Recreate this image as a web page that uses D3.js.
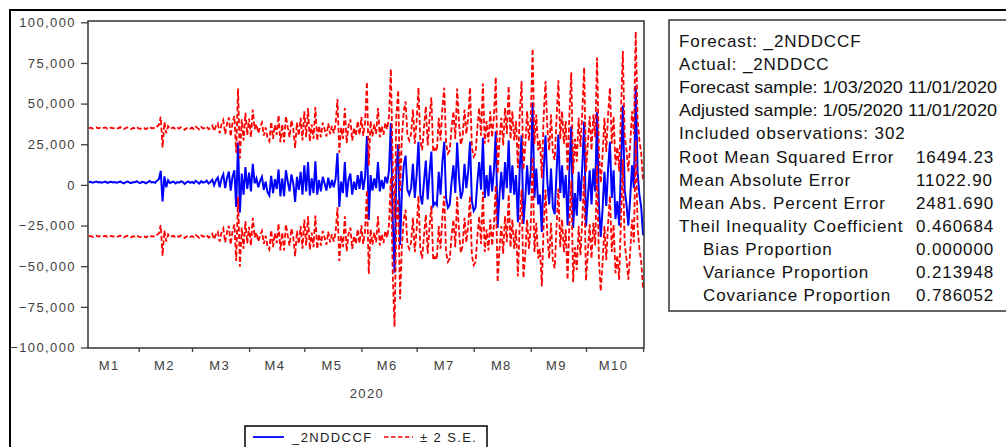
<!DOCTYPE html>
<html><head><meta charset="utf-8">
<script src="https://cdn.jsdelivr.net/npm/d3@7"></script>
<style>
html,body{margin:0;padding:0;background:#fff;}
svg{display:block;}
text{font-family:"Liberation Sans",Arial,sans-serif;}
</style></head><body>
<svg id="chart" width="1006" height="447"></svg>
<script>
// ---------------- DATA ----------------
const startDate = "2020-01-05";          // first observation (adjusted sample)
const endDate = "2020-11-01";
// Daily static forecast _2NDDCCF
const forecast = [
  1600, 1900, 1300, 1700, 2100, 1500, 1800,
  1400, 1700, 2000, 1200, 1600, 1900, 1500,
  1800, 1300, 1600, 2200, 1400, 1000, 1700,
  2000, 1500, 1100, 1800, 1600, 2300, 1400,
  1200, 1900, 1600, 1000, 1700, 2400, 1500,
  1800, 1300, 2600, 3500, 8600, -10200, 5200,
  -1500, 2800, 1200, 1600, 2000, 900, 1700,
  1400, 2200, 1800, 600, 1500, 2100, 1300,
  1900, 1100, 2500, 1600, 800, 2300, 1400,
  1700, 2600, 900, 1800, 3200, -200, 2900,
  4500, -1500, 3800, 6500, -2000, 4200, 8200,
  -3500, 5000, 9000, -13500, 26000, -17000, 7000,
  -6000, 11000, -2500, 7500, -4000, 13000, 1000,
  4000, -1500, 2500, 5000, -3000, 2000, -4500,
  -6500, 5500, -5000, 3500, -2500, 9500, -7000,
  4000, -7000, 9000, 2000, -4000, 6500, 1000,
  -10500, 5000, -3000, 8000, -6000, 12000, -4000,
  14000, -6500, 4000, -5000, 14500, -6000, 3000,
  -4000, 5000, 1000, -3500, 4500, -2000, 3000,
  -1500, 4000, 19500, -13500, 2000, -5000, 14000,
  -7500, 3000, 7000, -6000, 2000, -3000, 6000,
  -2500, 8500, -3000, 5000, 30000, -21500, 6000,
  -3500, 4000, -2000, 14000, -4000, 3000, -2500,
  5000, 1000, 9000, 38000, -20000, -54000, 10000,
  25000, -37000, -4000, 12000, 18000, -3000, -6000,
  -2000, 13000, -8000, 6000, 26500, -6000, -12000,
  2000, 15000, -9000, 7500, 20500, -13000, -11000,
  -12500, 8000, -6000, 14000, 26500, -8000, -14000,
  -12000, 2000, 12000, -5000, 26000, 5000, -8500,
  -4000, 13000, -2000, 8000, 26500, -10000, -16000,
  -14000, 2000, 14000, -3000, 29000, -8000, 6000,
  -7000, 12000, -4000, 9000, 33000, -26500, -6000,
  8000, -9000, 14000, -2000, 27500, -5000, 12000,
  -6000, 6000, -23000, 10000, 30500, -24000, -9000,
  12000, -6000, 8000, 50500, -8000, 10000, -12000,
  -6000, -29000, 9000, 30500, 2000, -12000, 10000,
  -14000, -18000, 8000, 31000, -5000, 12000, -8000,
  6000, -25000, 10000, 36000, -26500, -5000, -19000,
  8000, -10000, 12000, 39000, -25500, -8000, 9000,
  -12000, 10000, -4000, 45000, -12000, -32000, -15000,
  8000, -13000, 10000, 26500, -8000, 9000, -21000,
  -10000, -25000, 12000, 49000, -3000, -12000, -25000,
  -8000, 12000, -2000, 61000, 8000, -6000, -14000,
  -31000
];
// Forecast standard error (band = forecast +/- 2 S.E.)
const forecastSE = 16650;

const yTicks = [-100000, -75000, -50000, -25000, 0, 25000, 50000, 75000, 100000];
const monthStarts = ["2020-02-01","2020-03-01","2020-04-01","2020-05-01","2020-06-01",
                     "2020-07-01","2020-08-01","2020-09-01","2020-10-01","2020-11-01"];
const monthLabels = ["M1","M2","M3","M4","M5","M6","M7","M8","M9","M10"];
const monthLabelDates = ["2020-01-16","2020-02-15","2020-03-16","2020-04-15","2020-05-16",
                         "2020-06-15","2020-07-16","2020-08-16","2020-09-15","2020-10-16"];
const yearLabel = "2020";
const legendLabels = ["_2NDDCCF", "\u00b1 2 S.E."];
const statLabels = [
  "Forecast: _2NDDCCF",
  "Actual: _2NDDCC",
  "Forecast sample: 1/03/2020 11/01/2020",
  "Adjusted sample: 1/05/2020 11/01/2020",
  "Included observations: 302",
  "Root Mean Squared Error",
  "Mean Absolute Error",
  "Mean Abs. Percent Error",
  "Theil Inequality Coefficient",
  "Bias Proportion",
  "Variance Proportion",
  "Covariance Proportion"
];
const statValues = ["", "", "", "", "", "16494.23", "11022.90", "2481.690", "0.460684", "0.000000", "0.213948", "0.786052"];
const statIndent = [0,0,0,0,0,0,0,0,0,1,1,1];

// ---------------- DRAW ----------------
const svg = d3.select("#chart");
const parse = d3.utcParse("%Y-%m-%d");
const t0 = parse(startDate);
const dates = forecast.map((d, i) => d3.utcDay.offset(t0, i));
const upper = forecast.map(v => v + 2 * forecastSE);
const lower = forecast.map(v => v - 2 * forecastSE);

const plot = {left: 88, right: 644, top: 21, bottom: 348};
const x = d3.scaleUtc()
  .domain([d3.utcHour.offset(t0, -12), d3.utcHour.offset(parse(endDate), 12)])
  .range([plot.left, plot.right]);
const y = d3.scaleLinear().domain([-100000, 100000]).range([347.5, 22.3]);

// outer frame lines
svg.append("line").attr("x1", 10).attr("x2", 1006).attr("y1", 10).attr("y2", 10)
  .attr("stroke", "#000").attr("stroke-width", 2);
svg.append("line").attr("x1", 10).attr("x2", 10).attr("y1", 9).attr("y2", 447)
  .attr("stroke", "#000").attr("stroke-width", 2);

const axisColor = "#404040";
const labelFont = 13, labelSpacing = "1.4px";

// Y axis
const yAxis = d3.axisLeft(y).tickValues(yTicks).tickSize(7).tickPadding(5)
  .tickFormat(d3.format(","));
const gy = svg.append("g").attr("transform", `translate(${plot.left},0)`).call(yAxis);
gy.select(".domain").remove();
gy.selectAll(".tick line").attr("stroke", axisColor).attr("stroke-width", 1.3);
gy.selectAll(".tick text").attr("fill", "#404040").attr("font-size", labelFont)
  .attr("letter-spacing", labelSpacing)
  .style("font-family", '"Liberation Sans",Arial,sans-serif');

// X axis ticks at month starts
const xAxis = d3.axisBottom(x).tickValues(monthStarts.map(parse)).tickSize(4).tickFormat("");
const gx = svg.append("g").attr("transform", `translate(0,${plot.bottom})`).call(xAxis);
gx.select(".domain").remove();
gx.selectAll(".tick line").attr("stroke", axisColor).attr("stroke-width", 1.3);

svg.append("g").selectAll("text").data(monthLabels).join("text")
  .attr("x", (d, i) => x(parse(monthLabelDates[i])))
  .attr("y", 370)
  .attr("text-anchor", "middle")
  .attr("font-size", labelFont).attr("letter-spacing", labelSpacing)
  .attr("fill", "#404040").text(d => d);

svg.append("text").attr("x", x(parse("2020-06-04"))).attr("y", 398)
  .attr("text-anchor", "middle").attr("font-size", labelFont)
  .attr("letter-spacing", labelSpacing).attr("fill", "#404040").text(yearLabel);

// series
const lineGen = d3.line().x((d, i) => x(dates[i])).y(d => y(d));
svg.append("clipPath").attr("id", "pc").append("rect")
  .attr("x", plot.left).attr("y", plot.top).attr("width", plot.right - plot.left).attr("height", plot.bottom - plot.top);
const series = svg.append("g").attr("clip-path", "url(#pc)");
series.append("path").datum(forecast).attr("d", lineGen)
  .attr("fill", "none").attr("stroke", "#0000ff").attr("stroke-width", 2);
series.append("path").datum(upper).attr("d", lineGen)
  .attr("fill", "none").attr("stroke", "#ff0000").attr("stroke-width", 1.8)
  .attr("stroke-dasharray", "5,2.5");
series.append("path").datum(lower).attr("d", lineGen)
  .attr("fill", "none").attr("stroke", "#ff0000").attr("stroke-width", 1.8)
  .attr("stroke-dasharray", "5,2.5");

// plot frame
svg.append("rect").attr("x", plot.left).attr("y", plot.top)
  .attr("width", plot.right - plot.left).attr("height", plot.bottom - plot.top)
  .attr("fill", "none").attr("stroke", "#333").attr("stroke-width", 1.5);

// legend
const lg = svg.append("g");
lg.append("rect").attr("x", 245).attr("y", 426).attr("width", 242).attr("height", 30)
  .attr("fill", "#fff").attr("stroke", "#000").attr("stroke-width", 1.5);
lg.append("line").attr("x1", 253).attr("x2", 284).attr("y1", 437).attr("y2", 437)
  .attr("stroke", "#0000ff").attr("stroke-width", 1.8);
lg.append("text").attr("x", 292).attr("y", 442).attr("font-size", labelFont)
  .attr("letter-spacing", labelSpacing).attr("fill", "#222").text(legendLabels[0]);
lg.append("line").attr("x1", 384).attr("x2", 413).attr("y1", 437).attr("y2", 437)
  .attr("stroke", "#ff0000").attr("stroke-width", 1.6).attr("stroke-dasharray", "4.5,2.5");
lg.append("text").attr("x", 420).attr("y", 442).attr("font-size", labelFont)
  .attr("letter-spacing", labelSpacing).attr("fill", "#222").text(legendLabels[1]);

// statistics box
const sb = svg.append("g");
sb.append("rect").attr("x", 669).attr("y", 20).attr("width", 345).attr("height", 291)
  .attr("fill", "#fff").attr("stroke", "#333").attr("stroke-width", 1.5);
const labs = sb.selectAll("text.lab").data(statLabels).join("text").attr("class", "lab")
  .attr("x", (d, i) => statIndent[i] ? 703 : 679)
  .attr("y", (d, i) => 47 + i * 23.1)
  .attr("font-size", 17).attr("letter-spacing", "0.9px").attr("fill", "#111")
  .text(d => d);
// the two long sample lines are squeezed to fit the box, as in the reference
labs.filter((d, i) => i === 2 || i === 3)
  .attr("letter-spacing", null)
  .attr("textLength", 318).attr("lengthAdjust", "spacingAndGlyphs");
sb.selectAll("text.val").data(statValues).join("text").attr("class", "val")
  .attr("x", 916)
  .attr("y", (d, i) => 47 + i * 23.1)
  .attr("font-size", 17).attr("letter-spacing", "0.9px").attr("fill", "#111")
  .text(d => d);
</script>
</body></html>
